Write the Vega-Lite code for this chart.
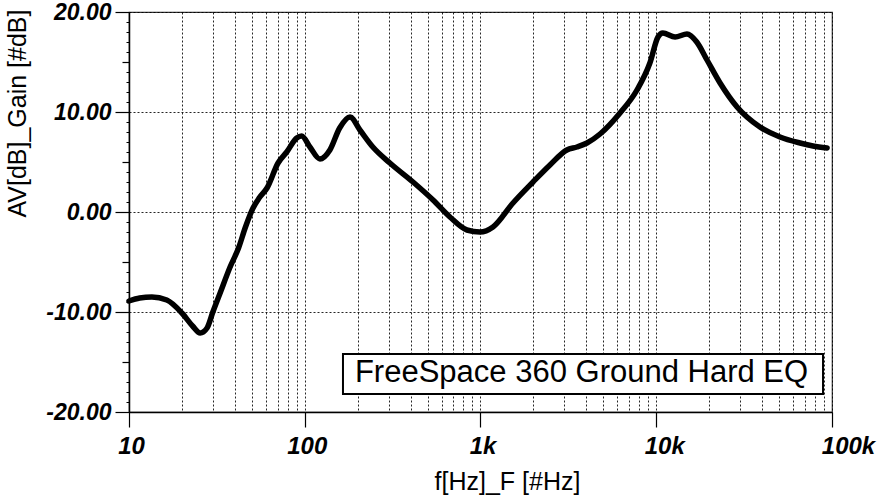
{
  "$schema": "https://vega.github.io/schema/vega-lite/v6.json",
  "width": 703,
  "height": 400,
  "autosize": {"type": "none"},
  "padding": {"left": 129, "top": 12, "right": 46, "bottom": 86},
  "background": "white",
  "config": {
    "view": {"stroke": "#333333", "strokeWidth": 1.2},
    "font": "Liberation Sans"
  },
  "datasets": {
    "curve": [
      {"f": 10, "gain": -8.9}, {"f": 11.5, "gain": -8.6}, {"f": 13.5, "gain": -8.5}, {"f": 16.4, "gain": -8.8},
      {"f": 20, "gain": -10.1}, {"f": 23, "gain": -11.4}, {"f": 25.4, "gain": -12.1}, {"f": 27.8, "gain": -11.6},
      {"f": 30, "gain": -10.0}, {"f": 33, "gain": -8.1}, {"f": 37.6, "gain": -5.5}, {"f": 42, "gain": -3.6},
      {"f": 46, "gain": -1.5}, {"f": 50.8, "gain": 0.4}, {"f": 55, "gain": 1.4}, {"f": 61, "gain": 2.4},
      {"f": 70.5, "gain": 4.9}, {"f": 79, "gain": 6.0}, {"f": 90, "gain": 7.4}, {"f": 96, "gain": 7.6},
      {"f": 107, "gain": 6.5}, {"f": 122, "gain": 5.3}, {"f": 139, "gain": 6.2}, {"f": 158, "gain": 8.4},
      {"f": 181, "gain": 9.5}, {"f": 206, "gain": 8.2}, {"f": 244, "gain": 6.5}, {"f": 305, "gain": 4.9},
      {"f": 413, "gain": 3.0}, {"f": 537, "gain": 1.2}, {"f": 670, "gain": -0.5}, {"f": 837, "gain": -1.8},
      {"f": 993, "gain": -2.0}, {"f": 1178, "gain": -1.5}, {"f": 1531, "gain": 0.9}, {"f": 1990, "gain": 3.0},
      {"f": 2485, "gain": 4.7}, {"f": 3100, "gain": 6.2}, {"f": 3540, "gain": 6.5}, {"f": 4036, "gain": 6.9},
      {"f": 4790, "gain": 7.8}, {"f": 6220, "gain": 9.9}, {"f": 7770, "gain": 12.2}, {"f": 9200, "gain": 14.9},
      {"f": 10230, "gain": 17.5}, {"f": 10900, "gain": 17.9}, {"f": 12800, "gain": 17.5}, {"f": 14960, "gain": 17.8},
      {"f": 17000, "gain": 17.0}, {"f": 19450, "gain": 15.2}, {"f": 23070, "gain": 12.9}, {"f": 28830, "gain": 10.5},
      {"f": 38900, "gain": 8.5}, {"f": 50600, "gain": 7.5}, {"f": 65800, "gain": 6.9}, {"f": 78000, "gain": 6.6},
      {"f": 93800, "gain": 6.4}
    ],
    "box": [
      {"x1": 165, "x2": 88900, "y1": -14.2, "y2": -18.2, "tx": 193, "ty": -17.0, "label": "FreeSpace 360 Ground Hard EQ"}
    ]
  },
  "resolve": {"axis": {"x": "independent", "y": "independent"}},
  "layer": [
    {
      "data": {"name": "box"},
      "mark": {"type": "rect", "fill": "white", "stroke": "black", "strokeWidth": 2},
      "encoding": {
        "x": {
          "field": "x1", "type": "quantitative",
          "scale": {"type": "log", "domain": [10, 100000], "nice": false},
          "axis": {
            "orient": "bottom",
            "values": [10, 20, 30, 40, 50, 60, 70, 80, 90, 100, 200, 300, 400, 500, 600, 700, 800, 900, 1000, 2000, 3000, 4000, 5000, 6000, 7000, 8000, 9000, 10000, 20000, 30000, 40000, 50000, 60000, 70000, 80000, 90000, 100000],
            "grid": true,
            "gridColor": "black",
            "gridDash": [2, 2],
            "gridWidth": 1,
            "gridOpacity": 0.85,
            "domainColor": "black",
            "domainWidth": 1.5,
            "tickColor": "black",
            "tickWidth": 1.2,
            "tickSize": 15,
            "tickOpacity": {"condition": {"test": "indexof([10,100,1000,10000,100000], datum.value) < 0", "value": 0}, "value": 1},
            "labelExpr": "indexof([10,100,1000,10000,100000], datum.value) < 0 ? '' : (datum.value >= 1000 ? format(datum.value / 1000, 'd') + 'k' : format(datum.value, 'd'))",
            "labelFont": "Liberation Sans",
            "labelFontSize": 24,
            "labelFontWeight": "bold",
            "labelFontStyle": "italic",
            "labelColor": "black",
            "labelPadding": 7,
            "labelOverlap": false,
            "labelBound": false,
            "labelFlush": false,
            "labelOffset": {"condition": [{"test": "datum.value >= 100000", "value": 16}, {"test": "datum.value >= 10000", "value": 8}], "value": 2},
            "title": "f[Hz]_F [#Hz]",
            "titleFont": "Liberation Sans",
            "titleFontSize": 25,
            "titleFontWeight": "normal",
            "titleColor": "black",
            "titleX": 378,
            "titleY": 77,
            "titleBaseline": "alphabetic"
          }
        },
        "x2": {"field": "x2"},
        "y": {
          "field": "y1", "type": "quantitative",
          "scale": {"domain": [-20, 20], "nice": false, "zero": false},
          "axis": {
            "orient": "left",
            "values": [-20, -10, 0, 10, 20],
            "grid": true,
            "gridColor": "black",
            "gridDash": [2, 2],
            "gridWidth": 1,
            "gridOpacity": 0.85,
            "domainColor": "black",
            "domainWidth": 1.5,
            "tickColor": "black",
            "tickWidth": 1.2,
            "tickSize": 14,
            "labelExpr": "(datum.value < 0 ? '-' : '') + format(abs(datum.value), '.2f')",
            "labelFont": "Liberation Sans",
            "labelFontSize": 23,
            "labelFontWeight": "bold",
            "labelFontStyle": "italic",
            "labelColor": "black",
            "labelPadding": 4,
            "labelOverlap": false,
            "labelBound": false,
            "labelFlush": false,
            "title": "AV[dB]_Gain [#dB]",
            "titleFont": "Liberation Sans",
            "titleFontSize": 25,
            "titleFontWeight": "normal",
            "titleColor": "black",
            "titleAnchor": "end",
            "titleX": -104,
            "titleY": -3,
            "titleBaseline": "alphabetic"
          }
        },
        "y2": {"field": "y2"}
      }
    },
    {
      "data": {"name": "box"},
      "mark": {"type": "text", "align": "left", "baseline": "alphabetic", "font": "Liberation Sans", "fontSize": 31, "color": "black"},
      "encoding": {
        "x": {"field": "tx", "type": "quantitative", "axis": null},
        "y": {
          "field": "ty", "type": "quantitative",
          "axis": {
            "orient": "left",
            "values": [-15, -5, 5, 15],
            "grid": false,
            "domain": false,
            "labels": false,
            "title": null,
            "tickColor": "black",
            "tickWidth": 1.2,
            "tickSize": 7
          }
        },
        "text": {"field": "label"}
      }
    },
    {
      "data": {"name": "curve"},
      "mark": {"type": "line", "color": "black", "strokeWidth": 5.5, "interpolate": "monotone", "strokeCap": "round", "strokeJoin": "round"},
      "encoding": {
        "x": {"field": "f", "type": "quantitative", "axis": null},
        "y": {
          "field": "gain", "type": "quantitative",
          "axis": {
            "orient": "left",
            "values": [-19, -18, -17, -16, -14, -13, -12, -11, -9, -8, -7, -6, -4, -3, -2, -1, 1, 2, 3, 4, 6, 7, 8, 9, 11, 12, 13, 14, 16, 17, 18, 19],
            "grid": false,
            "domain": false,
            "labels": false,
            "title": null,
            "tickColor": "black",
            "tickWidth": 1,
            "tickSize": 3
          }
        }
      }
    }
  ]
}
